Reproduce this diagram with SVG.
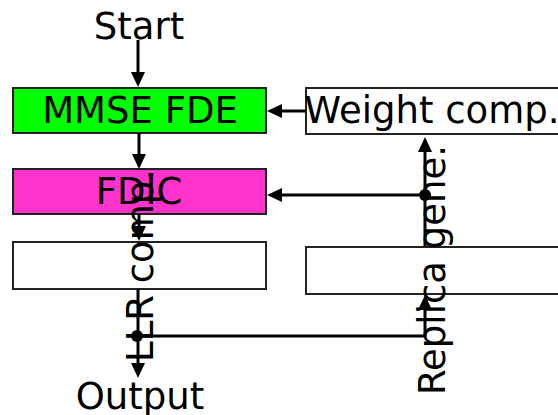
<svg xmlns="http://www.w3.org/2000/svg" width="558" height="415" viewBox="0 0 558 415">
<defs>
<marker id="arr" markerUnits="userSpaceOnUse" markerWidth="16" markerHeight="16" refX="11" refY="7" orient="auto">
<path d="M0,0 L15,7 L0,14 Z" fill="#000"/>
</marker>
<style>
.box{stroke:#222;stroke-width:2}
.t{font-family:"DejaVu Sans","Verdana",sans-serif;font-size:37px;fill:#000;text-anchor:middle}
.c{fill:none;stroke:#000;stroke-width:3}
</style>
</defs>
<rect width="558" height="415" fill="#fff"/>
<g id="start"><text class="t" x="139" y="39">Start</text></g>
<g id="output"><text class="t" x="140" y="409">Output</text></g>
<g id="mmse"><rect class="box" x="13" y="88" width="253" height="45" fill="#00ff00"/><text class="t" x="140" y="123">MMSE FDE</text></g>
<g id="fdic"><rect class="box" x="13" y="169" width="253" height="45" fill="#ff33cc"/><text class="t" x="139" y="204">FDIC</text></g>
<g id="llr"><rect class="box" x="13" y="242" width="253" height="47" fill="#fff"/></g>
<g id="weight"><rect class="box" x="306" y="88" width="253" height="46" fill="#fff"/><text class="t" x="432" y="123">Weight comp.</text></g>
<g id="replica"><rect class="box" x="306" y="247" width="253" height="47" fill="#fff"/></g>
<g id="connectors">
<line class="c" x1="138" y1="40" x2="138" y2="83" marker-end="url(#arr)"/>
<line class="c" x1="139" y1="133" x2="139" y2="165" marker-end="url(#arr)"/>
<line class="c" x1="139" y1="214" x2="139" y2="237" marker-end="url(#arr)"/>
<line class="c" x1="138" y1="289" x2="138" y2="374" marker-end="url(#arr)"/>
<polyline class="c" points="137,336 425,336 425,299" marker-end="url(#arr)"/>
<line class="c" x1="425" y1="247" x2="425" y2="141" marker-end="url(#arr)"/>
<line class="c" x1="425" y1="195" x2="271" y2="195" marker-end="url(#arr)"/>
<line class="c" x1="306" y1="111" x2="271" y2="111" marker-end="url(#arr)"/>
<circle cx="137" cy="336" r="6" fill="#000"/>
<circle cx="425" cy="195" r="6" fill="#000"/>
</g>
<g id="labels">
<text class="t" x="140" y="278.5" transform="rotate(-90 140 265.5)">LLR comp.</text>
<text class="t" x="432" y="283" transform="rotate(-90 432 270)">Replica gene.</text>
</g>
</svg>
